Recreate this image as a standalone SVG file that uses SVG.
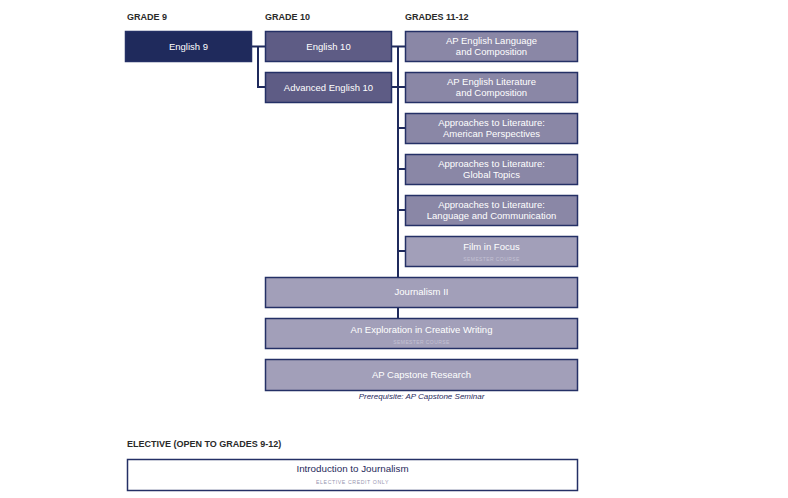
<svg xmlns="http://www.w3.org/2000/svg" width="788" height="498" viewBox="0 0 788 498">
<style>
text{font-family:"Liberation Sans",Arial,sans-serif}
.hd{font-size:9px;fill:#2a2a2a;font-weight:bold}
.b{stroke:#243066;stroke-width:1.5}
.g9{fill:#1f2a5c}
.g10{fill:#5e5c85}
.g11{fill:#8a87a6}
.lt{fill:#a29fb9}
.t{font-size:9.5px;fill:#fff;text-anchor:middle}
.s{font-size:5px;fill:#c4c2d4;text-anchor:middle;letter-spacing:0.4px}
.ln{stroke:#1f2a5c;stroke-width:2;fill:none}
</style>
<rect width="788" height="498" fill="#fff"/>
<text class="hd" x="127" y="20">GRADE 9</text>
<text class="hd" x="265" y="20">GRADE 10</text>
<text class="hd" x="405" y="20">GRADES 11-12</text>
<text class="hd" x="127" y="447">ELECTIVE (OPEN TO GRADES 9-12)</text>
<g id="connectors">
<path class="ln" d="M252,46.5H265M258,46.5V87H265"/>
<path class="ln" d="M392,46.5H405M392,87H405M398,46.5V277M398,128H405M398,169H405M398,210H405M398,251H405M398,308V319"/>
</g>
<g id="english9"><rect class="b g9" x="125.5" y="31.5" width="126" height="30"/><text class="t" x="188.5" y="50">English 9</text></g>
<g id="english10"><rect class="b g10" x="265.5" y="31.5" width="126" height="30"/><text class="t" x="328.5" y="50">English 10</text></g>
<g id="advenglish10"><rect class="b g10" x="265.5" y="72.5" width="126" height="30"/><text class="t" x="328.5" y="91">Advanced English 10</text></g>
<g id="aplang"><rect class="b g11" x="405.5" y="31.5" width="172" height="30"/><text class="t" x="491.5" y="44">AP English Language</text><text class="t" x="491.5" y="55">and Composition</text></g>
<g id="aplit"><rect class="b g11" x="405.5" y="72.5" width="172" height="30"/><text class="t" x="491.5" y="85">AP English Literature</text><text class="t" x="491.5" y="96">and Composition</text></g>
<g id="approach-american"><rect class="b g11" x="405.5" y="113.5" width="172" height="30"/><text class="t" x="491.5" y="126">Approaches to Literature:</text><text class="t" x="491.5" y="137">American Perspectives</text></g>
<g id="approach-global"><rect class="b g11" x="405.5" y="154.5" width="172" height="30"/><text class="t" x="491.5" y="167">Approaches to Literature:</text><text class="t" x="491.5" y="178">Global Topics</text></g>
<g id="approach-language"><rect class="b g11" x="405.5" y="195.5" width="172" height="30"/><text class="t" x="491.5" y="208">Approaches to Literature:</text><text class="t" x="491.5" y="219">Language and Communication</text></g>
<g id="film"><rect class="b lt" x="405.5" y="236.5" width="172" height="30"/><text class="t" x="491.5" y="250">Film in Focus</text><text class="s" x="491.5" y="261">SEMESTER COURSE</text></g>
<g id="journalism2"><rect class="b lt" x="265.5" y="277.5" width="312" height="30"/><text class="t" x="421.5" y="295">Journalism II</text></g>
<g id="creative"><rect class="b lt" x="265.5" y="318.5" width="312" height="30"/><text class="t" x="421.5" y="333">An Exploration in Creative Writing</text><text class="s" x="421.5" y="344">SEMESTER COURSE</text></g>
<g id="capstone"><rect class="b lt" x="265.5" y="359.5" width="312" height="31"/><text class="t" x="421.5" y="378">AP Capstone Research</text><text x="421.5" y="399" style="font-size:8px;fill:#1f2a5c;font-style:italic;text-anchor:middle">Prerequisite: AP Capstone Seminar</text></g>
<g id="intro-journalism"><rect class="b" fill="#fff" x="127.5" y="459.5" width="450" height="31"/><text x="352.5" y="472" style="font-size:9.8px;fill:#1f2a5c;text-anchor:middle">Introduction to Journalism</text><text x="352.5" y="484" style="font-size:5.2px;fill:#9896b0;text-anchor:middle;letter-spacing:0.6px">ELECTIVE CREDIT ONLY</text></g>
</svg>
